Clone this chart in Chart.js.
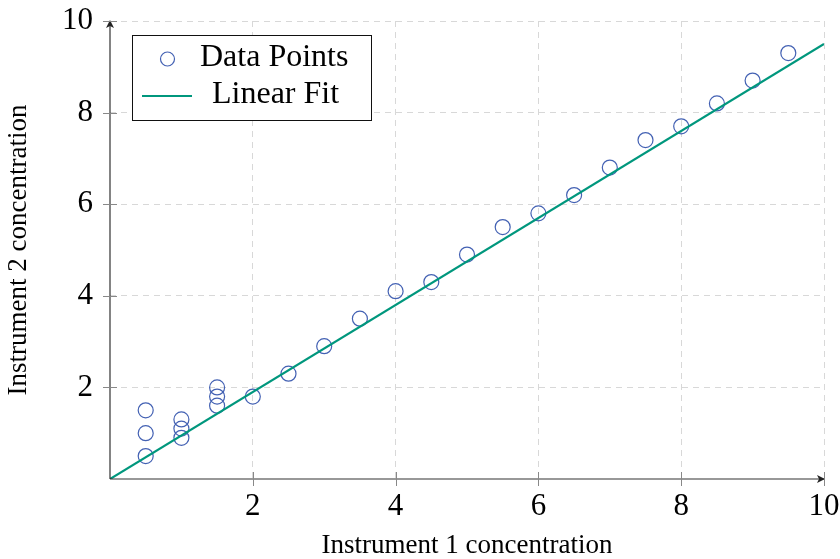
<!DOCTYPE html>
<html>
<head>
<meta charset="utf-8">
<script src="https://cdn.jsdelivr.net/npm/chart.js@4.4.1/dist/chart.umd.min.js"></script>
<style>
  html, body { margin: 0; padding: 0; background: #fff; }
  #wrap { width: 840px; height: 559px; }
</style>
</head>
<body>
<div id="wrap"><canvas id="calib"></canvas></div>
<script>
// measured pairs
const inst1 = [0.5, 0.5, 0.5, 1, 1, 1, 1.5, 1.5, 1.5, 2, 2.5, 3, 3.5, 4, 4.5, 5, 5.5, 6, 6.5, 7, 7.5, 8, 8.5, 9, 9.5];
const inst2 = [0.5, 1.0, 1.5, 0.9, 1.1, 1.3, 1.6, 1.8, 2.0, 1.8, 2.3, 2.9, 3.5, 4.1, 4.3, 4.9, 5.5, 5.8, 6.2, 6.8, 7.4, 7.7, 8.2, 8.7, 9.3];
// fitted line endpoints
const fitX = [0, 10];
const fitY = [0, 9.5];
const tickValues = [2, 4, 6, 8, 10];

const serif = '"Liberation Serif", "DejaVu Serif", serif';
const pointColor = '#4361b3';
const lineColor = '#00977d';

// axis lines with arrow heads, crossing tick marks and the boxed legend
const axesAndLegend = {
  id: 'axesAndLegend',
  afterDatasetsDraw(chart) {
    const { ctx, scales: { x, y } } = chart;
    const x0 = x.getPixelForValue(0), x1 = x.getPixelForValue(10);
    const y0 = y.getPixelForValue(0), y1 = y.getPixelForValue(10);
    ctx.save();
    ctx.strokeStyle = '#333';
    ctx.fillStyle = '#222';
    ctx.lineWidth = 1.2;
    ctx.beginPath();
    ctx.moveTo(x0, y0); ctx.lineTo(x1, y0);
    ctx.moveTo(x0, y0); ctx.lineTo(x0, y1);
    ctx.stroke();
    // arrow heads
    ctx.beginPath();
    ctx.moveTo(x1 + 1, y0); ctx.lineTo(x1 - 7, y0 - 4); ctx.lineTo(x1 - 5, y0); ctx.lineTo(x1 - 7, y0 + 4); ctx.closePath();
    ctx.fill();
    ctx.beginPath();
    ctx.moveTo(x0, y1 - 1); ctx.lineTo(x0 - 4, y1 + 7); ctx.lineTo(x0, y1 + 5); ctx.lineTo(x0 + 4, y1 + 7); ctx.closePath();
    ctx.fill();
    // tick marks
    ctx.strokeStyle = '#888';
    ctx.lineWidth = 1;
    ctx.beginPath();
    tickValues.forEach(v => {
      const px = Math.round(x.getPixelForValue(v)) + 0.5;
      ctx.moveTo(px, y0 - 7); ctx.lineTo(px, y0 + 7);
      const py = Math.round(y.getPixelForValue(v)) + 0.5;
      ctx.moveTo(x0 - 7, py); ctx.lineTo(x0 + 7, py);
    });
    ctx.stroke();

    // legend box
    const bx = 132, by = 35, bw = 239, bh = 85;
    ctx.fillStyle = '#fff';
    ctx.fillRect(bx, by, bw, bh);
    ctx.strokeStyle = '#111';
    ctx.lineWidth = 1;
    ctx.strokeRect(bx + 0.5, by + 0.5, bw, bh);
    const ds = chart.data.datasets;
    ctx.beginPath();
    ctx.strokeStyle = ds[0].borderColor;
    ctx.lineWidth = ds[0].borderWidth;
    ctx.arc(167.5, 59, 7, 0, Math.PI * 2);
    ctx.stroke();
    ctx.beginPath();
    ctx.strokeStyle = ds[1].borderColor;
    ctx.lineWidth = ds[1].borderWidth;
    ctx.moveTo(142, 96); ctx.lineTo(192, 96);
    ctx.stroke();
    ctx.fillStyle = '#000';
    ctx.font = '32px ' + serif;
    ctx.textBaseline = 'middle';
    ctx.fillText(ds[0].label, 200, 58);
    ctx.fillText(ds[1].label, 212, 95);
    ctx.restore();
  }
};

new Chart(document.getElementById('calib'), {
  type: 'scatter',
  data: {
    datasets: [
      {
        label: 'Data Points',
        data: inst1.map((v, i) => ({ x: v, y: inst2[i] })),
        backgroundColor: 'rgba(0,0,0,0)',
        borderColor: pointColor,
        borderWidth: 1.2,
        pointRadius: 7.5,
        pointHoverRadius: 7.5,
        order: 1
      },
      {
        label: 'Linear Fit',
        data: fitX.map((v, i) => ({ x: v, y: fitY[i] })),
        showLine: true,
        borderColor: lineColor,
        borderWidth: 2.2,
        pointRadius: 0,
        order: 0
      }
    ]
  },
  options: {
    responsive: true,
    maintainAspectRatio: false,
    animation: false,
    layout: { padding: { top: 21, right: 16, left: 0, bottom: 0 } },
    plugins: { legend: { display: false }, tooltip: { enabled: false } },
    scales: {
      x: {
        type: 'linear', min: 0, max: 10,
        afterFit: s => { s.height = 80; s.paddingLeft = 0; s.paddingRight = 0; },
        ticks: {
          stepSize: 2, padding: 9, color: '#000',
          font: { family: serif, size: 31 },
          callback: v => (v === 0 ? '' : v)
        },
        grid: {
          color: c => (c.tick.value === 0 ? 'rgba(0,0,0,0)' : '#d8d8d8'),
          lineWidth: 1, drawTicks: false
        },
        border: { display: false, dash: [6, 5] },
        title: {
          display: true, text: 'Instrument 1 concentration', color: '#000',
          font: { family: serif, size: 27, lineHeight: 1.0 }, padding: { top: 0, bottom: 0 }
        }
      },
      y: {
        type: 'linear', min: 0, max: 10,
        afterFit: s => { s.width = 110; s.paddingTop = 0; s.paddingBottom = 0; },
        ticks: {
          stepSize: 2, padding: 17, color: '#000',
          font: { family: serif, size: 31 },
          callback: v => (v === 0 ? '' : v)
        },
        grid: {
          color: c => (c.tick.value === 0 ? 'rgba(0,0,0,0)' : '#d8d8d8'),
          lineWidth: 1, drawTicks: false
        },
        border: { display: false, dash: [6, 5] },
        title: {
          display: true, text: 'Instrument 2 concentration', color: '#000',
          font: { family: serif, size: 27, lineHeight: 1.1 }, padding: { top: 4, bottom: 0 }
        }
      }
    }
  },
  plugins: [axesAndLegend]
});
</script>
</body>
</html>
